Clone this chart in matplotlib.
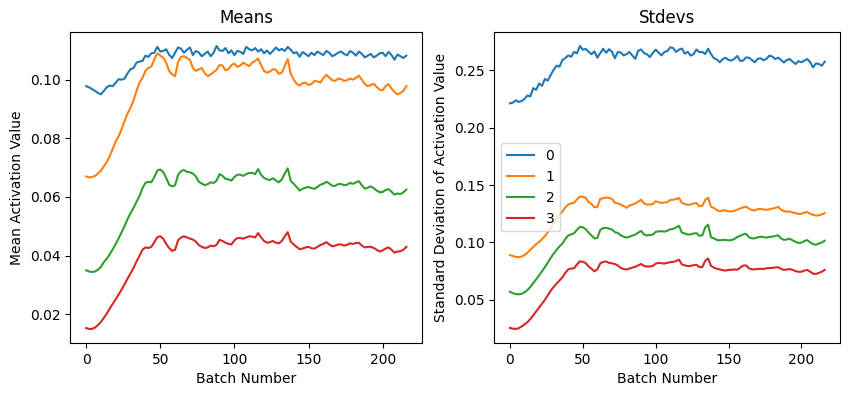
import numpy as np
import matplotlib
matplotlib.use("Agg")
import matplotlib.pyplot as plt

# batch numbers (read every 2 batches)
batches = np.arange(0, 217, 2)

# mean activation per layer
mean_0 = [0.0978, 0.0974, 0.0968, 0.0962, 0.0955, 0.0950, 0.0962, 0.0975, 0.0980, 0.0978,
          0.0990, 0.1002, 0.1000, 0.1004, 0.1022, 0.1036, 0.1040, 0.1058, 0.1062, 0.1064,
          0.1082, 0.1078, 0.1090, 0.1092, 0.1112, 0.1096, 0.1098, 0.1104, 0.1085, 0.1074,
          0.1092, 0.1110, 0.1106, 0.1092, 0.1102, 0.1110, 0.1084, 0.1098, 0.1093, 0.1080,
          0.1088, 0.1096, 0.1080, 0.1092, 0.1115, 0.1100, 0.1098, 0.1108, 0.1090, 0.1100,
          0.1084, 0.1098, 0.1095, 0.1088, 0.1112, 0.1104, 0.1100, 0.1108, 0.1096, 0.1104,
          0.1090, 0.1100, 0.1088, 0.1098, 0.1110, 0.1100, 0.1105, 0.1098, 0.1112, 0.1102,
          0.1090, 0.1094, 0.1078, 0.1094, 0.1088, 0.1080, 0.1092, 0.1084, 0.1096, 0.1090,
          0.1084, 0.1098, 0.1092, 0.1080, 0.1085, 0.1092, 0.1096, 0.1088, 0.1083, 0.1098,
          0.1092, 0.1082, 0.1096, 0.1088, 0.1076, 0.1082, 0.1088, 0.1076, 0.1082, 0.1090,
          0.1092, 0.1080, 0.1095, 0.1084, 0.1068, 0.1086, 0.1080, 0.1074, 0.1082]
mean_1 = [0.0670, 0.0667, 0.0668, 0.0672, 0.0680, 0.0690, 0.0705, 0.0720, 0.0740, 0.0765,
          0.0790, 0.0808, 0.0832, 0.0860, 0.0885, 0.0905, 0.0930, 0.0962, 0.0990, 0.1006,
          0.1030, 0.1040, 0.1045, 0.1070, 0.1090, 0.1082, 0.1075, 0.1058, 0.1030, 0.1018,
          0.1012, 0.1060, 0.1078, 0.1080, 0.1074, 0.1068, 0.1040, 0.1030, 0.1035, 0.1040,
          0.1022, 0.1012, 0.1018, 0.1026, 0.1034, 0.1050, 0.1048, 0.1032, 0.1036, 0.1050,
          0.1055, 0.1044, 0.1048, 0.1058, 0.1052, 0.1046, 0.1058, 0.1064, 0.1072, 0.1050,
          0.1030, 0.1024, 0.1028, 0.1036, 0.1034, 0.1020, 0.1024, 0.1048, 0.1070, 0.1020,
          0.1000, 0.0986, 0.0980, 0.0988, 0.0990, 0.0982, 0.0985, 0.0996, 0.0994, 0.0990,
          0.1005, 0.1016, 0.1008, 0.0998, 0.0996, 0.1004, 0.1002, 0.0996, 0.0998, 0.1004,
          0.1000, 0.1006, 0.1014, 0.1000, 0.0985, 0.0978, 0.0982, 0.0986, 0.0975, 0.0966,
          0.0964, 0.0978, 0.0985, 0.0970, 0.0958, 0.0950, 0.0955, 0.0962, 0.0978]
mean_2 = [0.0350, 0.0346, 0.0344, 0.0346, 0.0352, 0.0362, 0.0378, 0.0390, 0.0405, 0.0422,
          0.0440, 0.0460, 0.0480, 0.0502, 0.0525, 0.0545, 0.0563, 0.0584, 0.0603, 0.0630,
          0.0648, 0.0652, 0.0650, 0.0668, 0.0690, 0.0694, 0.0685, 0.0665, 0.0642, 0.0636,
          0.0640, 0.0675, 0.0688, 0.0692, 0.0686, 0.0684, 0.0680, 0.0670, 0.0652, 0.0646,
          0.0640, 0.0644, 0.0650, 0.0648, 0.0656, 0.0678, 0.0672, 0.0662, 0.0660, 0.0656,
          0.0668, 0.0676, 0.0676, 0.0672, 0.0678, 0.0682, 0.0682, 0.0678, 0.0695, 0.0676,
          0.0665, 0.0660, 0.0658, 0.0664, 0.0656, 0.0650, 0.0660, 0.0680, 0.0698, 0.0655,
          0.0645, 0.0634, 0.0622, 0.0628, 0.0632, 0.0634, 0.0630, 0.0628, 0.0634, 0.0642,
          0.0645, 0.0652, 0.0646, 0.0638, 0.0638, 0.0644, 0.0644, 0.0640, 0.0642, 0.0648,
          0.0645, 0.0650, 0.0654, 0.0640, 0.0628, 0.0632, 0.0636, 0.0630, 0.0622, 0.0616,
          0.0617, 0.0624, 0.0627, 0.0618, 0.0608, 0.0612, 0.0610, 0.0616, 0.0625]
mean_3 = [0.0153, 0.0150, 0.0150, 0.0155, 0.0163, 0.0174, 0.0188, 0.0203, 0.0220, 0.0236,
          0.0252, 0.0268, 0.0285, 0.0303, 0.0322, 0.0340, 0.0358, 0.0380, 0.0399, 0.0420,
          0.0428, 0.0426, 0.0430, 0.0446, 0.0463, 0.0466, 0.0458, 0.0440, 0.0426, 0.0416,
          0.0420, 0.0452, 0.0462, 0.0466, 0.0462, 0.0458, 0.0455, 0.0448, 0.0436, 0.0430,
          0.0426, 0.0428, 0.0434, 0.0432, 0.0437, 0.0454, 0.0450, 0.0444, 0.0440, 0.0438,
          0.0452, 0.0460, 0.0460, 0.0458, 0.0462, 0.0466, 0.0465, 0.0462, 0.0477, 0.0462,
          0.0450, 0.0444, 0.0446, 0.0450, 0.0444, 0.0442, 0.0450, 0.0466, 0.0480, 0.0448,
          0.0438, 0.0430, 0.0422, 0.0424, 0.0428, 0.0430, 0.0425, 0.0424, 0.0430, 0.0436,
          0.0440, 0.0446, 0.0438, 0.0432, 0.0434, 0.0438, 0.0438, 0.0434, 0.0437, 0.0442,
          0.0440, 0.0443, 0.0444, 0.0434, 0.0428, 0.0430, 0.0430, 0.0426, 0.0420, 0.0414,
          0.0418, 0.0424, 0.0428, 0.0420, 0.0410, 0.0414, 0.0415, 0.0420, 0.0430]

# std of activation per layer
std_0 = [0.2212, 0.2218, 0.2238, 0.2225, 0.2232, 0.2250, 0.2280, 0.2272, 0.2345, 0.2330,
         0.2385, 0.2365, 0.2425, 0.2410, 0.2460, 0.2505, 0.2540, 0.2532, 0.2590, 0.2606,
         0.2630, 0.2618, 0.2660, 0.2648, 0.2712, 0.2680, 0.2686, 0.2662, 0.2640, 0.2665,
         0.2610, 0.2650, 0.2688, 0.2652, 0.2684, 0.2662, 0.2605, 0.2660, 0.2655, 0.2630,
         0.2640, 0.2660, 0.2628, 0.2600, 0.2670, 0.2682, 0.2650, 0.2640, 0.2615, 0.2650,
         0.2680, 0.2655, 0.2630, 0.2660, 0.2668, 0.2700, 0.2695, 0.2660, 0.2680, 0.2690,
         0.2645, 0.2662, 0.2628, 0.2640, 0.2682, 0.2658, 0.2660, 0.2642, 0.2688, 0.2640,
         0.2605, 0.2594, 0.2570, 0.2598, 0.2610, 0.2590, 0.2585, 0.2600, 0.2625, 0.2582,
         0.2585, 0.2612, 0.2610, 0.2590, 0.2570, 0.2600, 0.2605, 0.2588, 0.2600, 0.2628,
         0.2620, 0.2598, 0.2610, 0.2590, 0.2568, 0.2590, 0.2598, 0.2575, 0.2555, 0.2580,
         0.2570, 0.2585, 0.2598, 0.2570, 0.2525, 0.2560, 0.2555, 0.2540, 0.2575]
std_1 = [0.0890, 0.0882, 0.0874, 0.0872, 0.0876, 0.0890, 0.0910, 0.0935, 0.0960, 0.0985,
         0.1005, 0.1028, 0.1055, 0.1090, 0.1125, 0.1168, 0.1205, 0.1240, 0.1270, 0.1305,
         0.1330, 0.1340, 0.1345, 0.1375, 0.1400, 0.1398, 0.1390, 0.1350, 0.1335, 0.1306,
         0.1310, 0.1380, 0.1385, 0.1392, 0.1388, 0.1380, 0.1345, 0.1340, 0.1330, 0.1318,
         0.1302, 0.1320, 0.1330, 0.1340, 0.1355, 0.1372, 0.1340, 0.1330, 0.1330, 0.1334,
         0.1358, 0.1350, 0.1345, 0.1348, 0.1350, 0.1370, 0.1372, 0.1378, 0.1388, 0.1345,
         0.1335, 0.1328, 0.1330, 0.1340, 0.1343, 0.1315, 0.1320, 0.1370, 0.1390, 0.1310,
         0.1300, 0.1282, 0.1270, 0.1280, 0.1278, 0.1272, 0.1270, 0.1276, 0.1285, 0.1296,
         0.1305, 0.1312, 0.1295, 0.1282, 0.1278, 0.1290, 0.1292, 0.1288, 0.1284, 0.1290,
         0.1295, 0.1300, 0.1310, 0.1285, 0.1272, 0.1268, 0.1270, 0.1262, 0.1255, 0.1248,
         0.1250, 0.1260, 0.1265, 0.1250, 0.1240, 0.1234, 0.1236, 0.1244, 0.1255]
std_2 = [0.0570, 0.0558, 0.0550, 0.0548, 0.0552, 0.0565, 0.0585, 0.0612, 0.0645, 0.0678,
         0.0712, 0.0748, 0.0785, 0.0825, 0.0865, 0.0902, 0.0935, 0.0965, 0.0990, 0.1030,
         0.1060, 0.1070, 0.1080, 0.1110, 0.1135, 0.1132, 0.1115, 0.1085, 0.1060, 0.1035,
         0.1040, 0.1110, 0.1125, 0.1128, 0.1120, 0.1112, 0.1090, 0.1082, 0.1062, 0.1050,
         0.1042, 0.1050, 0.1060, 0.1068, 0.1085, 0.1100, 0.1070, 0.1060, 0.1065, 0.1068,
         0.1092, 0.1096, 0.1098, 0.1094, 0.1102, 0.1114, 0.1118, 0.1130, 0.1145, 0.1085,
         0.1078, 0.1068, 0.1070, 0.1078, 0.1080, 0.1058, 0.1062, 0.1130, 0.1155, 0.1045,
         0.1035, 0.1022, 0.1018, 0.1022, 0.1022, 0.1018, 0.1020, 0.1030, 0.1048, 0.1058,
         0.1070, 0.1075, 0.1045, 0.1036, 0.1035, 0.1045, 0.1050, 0.1046, 0.1042, 0.1048,
         0.1050, 0.1056, 0.1062, 0.1035, 0.1022, 0.1026, 0.1032, 0.1018, 0.1005, 0.0995,
         0.0998, 0.1012, 0.1020, 0.1000, 0.0985, 0.0980, 0.0990, 0.1000, 0.1015]
std_3 = [0.0255, 0.0248, 0.0246, 0.0252, 0.0268, 0.0285, 0.0305, 0.0332, 0.0365, 0.0398,
         0.0432, 0.0466, 0.0500, 0.0540, 0.0580, 0.0612, 0.0640, 0.0668, 0.0695, 0.0735,
         0.0765, 0.0772, 0.0775, 0.0808, 0.0835, 0.0832, 0.0820, 0.0790, 0.0770, 0.0748,
         0.0765, 0.0818, 0.0830, 0.0834, 0.0822, 0.0818, 0.0812, 0.0800, 0.0778, 0.0768,
         0.0764, 0.0772, 0.0780, 0.0788, 0.0800, 0.0812, 0.0795, 0.0790, 0.0790, 0.0795,
         0.0815, 0.0822, 0.0818, 0.0816, 0.0822, 0.0828, 0.0830, 0.0838, 0.0850, 0.0808,
         0.0800, 0.0794, 0.0795, 0.0802, 0.0805, 0.0785, 0.0785, 0.0840, 0.0860, 0.0795,
         0.0780, 0.0770, 0.0765, 0.0758, 0.0755, 0.0760, 0.0762, 0.0764, 0.0762, 0.0780,
         0.0798, 0.0800, 0.0775, 0.0766, 0.0765, 0.0768, 0.0770, 0.0768, 0.0775, 0.0776,
         0.0778, 0.0782, 0.0784, 0.0770, 0.0760, 0.0764, 0.0768, 0.0760, 0.0750, 0.0744,
         0.0745, 0.0755, 0.0760, 0.0745, 0.0728, 0.0725, 0.0735, 0.0745, 0.0760]

labels = ['0', '1', '2', '3']
means = [mean_0, mean_1, mean_2, mean_3]
stds = [std_0, std_1, std_2, std_3]

fig = plt.figure(figsize=(8.55, 3.93), dpi=100)
ax1 = fig.add_axes([0.082, 0.127, 0.412, 0.792])
ax2 = fig.add_axes([0.578, 0.127, 0.405, 0.792])

for lab, m in zip(labels, means):
    ax1.plot(batches[:len(m)], m, label=lab)
ax1.set_title('Means')
ax1.set_xlabel('Batch Number')
ax1.set_ylabel('Mean Activation Value')

for lab, s in zip(labels, stds):
    ax2.plot(batches[:len(s)], s, label=lab)
ax2.set_title('Stdevs')
ax2.set_xlabel('Batch Number')
ax2.set_ylabel('Standard Deviation of Activation Value')
ax2.legend(loc='center left')

fig.savefig('out.png', dpi=100)
